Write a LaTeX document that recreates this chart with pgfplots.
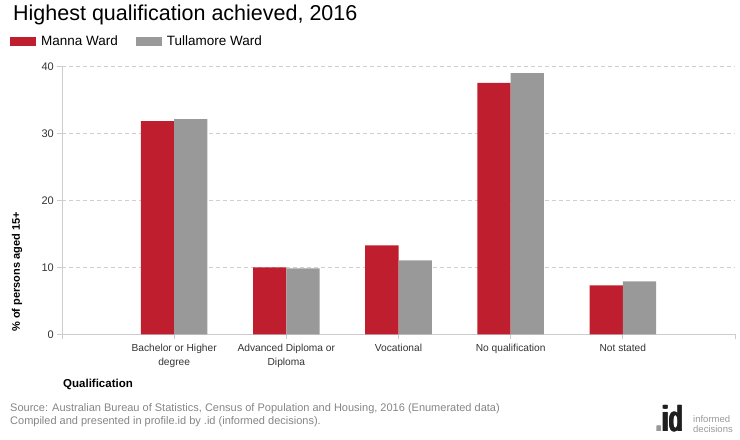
\documentclass[border=0pt]{standalone}
\usepackage{fontspec}
\setmainfont{Liberation Sans}
\usepackage{graphicx}
\usepackage{pgfplots}
\pgfplotsset{compat=1.18}
\definecolor{mred}{HTML}{BE1E2D}
\definecolor{mgrey}{HTML}{999999}
\definecolor{gridc}{HTML}{D0D0D0}
\definecolor{axc}{HTML}{CCCCCC}
\definecolor{txt}{HTML}{333333}
\definecolor{src}{HTML}{858585}
\begin{document}
\begin{tikzpicture}
\path[use as bounding box] (0,0) rectangle (740bp,440bp);
\begin{axis}[
  at={(62bp,105.5bp)}, anchor=south west,
  width=673bp, height=268.2bp, scale only axis,
  xmin=-1, xmax=5, ymin=0, ymax=40,
  ybar=0pt, bar width=0.297,
  axis x line*=bottom, axis y line*=left,
  axis line style={-, draw=axc, line width=1bp},
  tick align=outside,
  major tick length=5bp,
  xtick={-1,0,1,2,3,4,5},
  xticklabels={,{Bachelor or Higher\\degree},{Advanced Diploma or\\Diploma},Vocational,No qualification,Not stated,},
  ytick={0,10,20,30,40},
  tick style={draw=axc, line width=0.8bp},
  ymajorgrids,
  grid style={draw=gridc, line width=0.8bp, dash pattern=on 4bp off 3bp},
  /pgf/number format/assume math mode=true,
  xticklabel style={font=\fontsize{10.2bp}{14bp}\selectfont, text=txt, align=center, inner sep=0pt, yshift=-4bp},
  yticklabel style={font=\fontsize{11bp}{13bp}\selectfont, text=txt, inner sep=0pt, xshift=-3bp},
  ylabel={\% of persons aged 15+},
  ylabel style={font=\bfseries\fontsize{11bp}{13bp}\selectfont, at={(axis description cs:-0.0669,0.233)}, anchor=center},
  xlabel={Qualification},
  xlabel style={font=\bfseries\fontsize{11.5bp}{13bp}\selectfont, at={(axis description cs:0.0015,-0.1846)}, anchor=west, inner sep=0pt},
  legend columns=-1,
  legend cell align=left,
  legend style={at={(axis description cs:-0.0773,1.0943)}, anchor=west, draw=none, fill=none,
    font=\fontsize{13.5bp}{16bp}\selectfont, inner sep=0pt,
    nodes={inner sep=0pt},
    /tikz/every odd column/.append style={column sep=5bp},
    /tikz/every even column/.append style={column sep=18bp}},
]
\addplot[fill=mred, draw=none, bar shift=-0.1485,
  legend image code/.code={\fill[mred] (0bp,-4.5bp) rectangle (26bp,4.5bp);}]
  coordinates {(0,31.83) (1,10.01) (2,13.30) (3,37.51) (4,7.32)};
\addlegendentry{Manna Ward}
\addplot[fill=mgrey, draw=none, bar shift=0.1485,
  legend image code/.code={\fill[mgrey] (0bp,-4.5bp) rectangle (26bp,4.5bp);}]
  coordinates {(0,32.13) (1,9.86) (2,11.06) (3,39.00) (4,7.92)};
\addlegendentry{Tullamore Ward}
\end{axis}
\node[anchor=base west, inner sep=0pt, font=\fontsize{21.5bp}{24bp}\selectfont, text=black] at (13bp,419.3bp) {Highest qualification achieved, 2016};
\node[anchor=base west, inner sep=0pt, font=\fontsize{11bp}{13bp}\selectfont, text=src] at (10bp,29bp) {Source: Australian Bureau of Statistics, Census of Population and Housing, 2016 (Enumerated data)};
\node[anchor=base west, inner sep=0pt, font=\fontsize{11bp}{13bp}\selectfont, text=src] at (10bp,16bp) {Compiled and presented in profile.id by .id (informed decisions).};
\foreach \dx in {0,0.5,1,1.5}{
  \node[anchor=base west, inner sep=0pt, font=\bfseries\fontsize{36bp}{38bp}\selectfont] at (655bp+\dx bp,9bp) {\scalebox{0.65}[1]{\textcolor{mgrey}{.}\textcolor{black!88}{id}}};
}
\node[anchor=base west, inner sep=0pt, font=\fontsize{9.5bp}{11bp}\selectfont, text=mgrey] at (693bp,18bp) {informed};
\node[anchor=base west, inner sep=0pt, font=\fontsize{9.5bp}{11bp}\selectfont, text=mgrey] at (693bp,8bp) {decisions};
\end{tikzpicture}
\end{document}
